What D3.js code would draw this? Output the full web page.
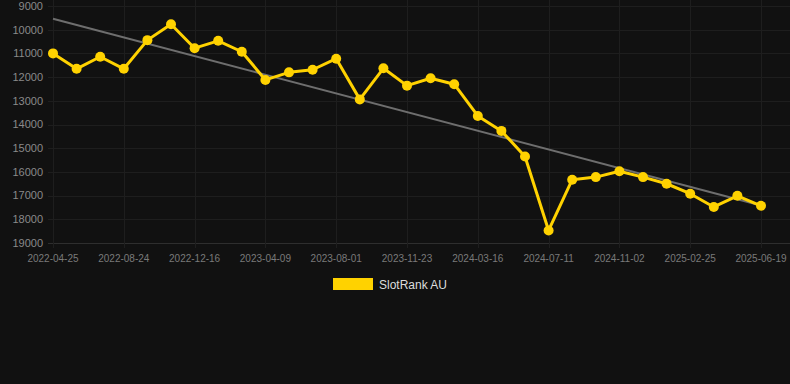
<!DOCTYPE html>
<html>
<head>
<meta charset="utf-8">
<script src="https://cdn.jsdelivr.net/npm/d3@7"></script>
<style>
  html, body { margin: 0; padding: 0; background: #111111; }
  svg { display: block; font-family: "Liberation Sans", Arial, sans-serif; }
</style>
</head>
<body>
<div id="chart"></div>
<script>
// dates of each sample (only every third is labelled on the axis)
var dates = [
  "2022-04-25", "2022-06-03", "2022-07-15", "2022-08-24", "2022-10-01", "2022-11-08",
  "2022-12-16", "2023-01-23", "2023-03-02", "2023-04-09", "2023-05-17", "2023-06-24",
  "2023-08-01", "2023-09-08", "2023-10-16", "2023-11-23", "2023-12-31", "2024-02-07",
  "2024-03-16", "2024-04-24", "2024-06-02", "2024-07-11", "2024-08-18", "2024-09-25",
  "2024-11-02", "2024-12-10", "2025-01-18", "2025-02-25", "2025-04-04", "2025-05-12",
  "2025-06-19"
];
// rank values (lower is better, axis is reversed)
var rankValues = [
  11000, 11650, 11140, 11650, 10440, 9770, 10780, 10470, 10930, 12120,
  11800, 11690, 11225, 12940, 11630, 12360, 12050, 12300, 13640, 14270,
  15350, 18470, 16330, 16220, 15970, 16220, 16500, 16920, 17480, 17010,
  17430
];
var yTicks = [9000, 10000, 11000, 12000, 13000, 14000, 15000, 16000, 17000, 18000, 19000];
var seriesName = "SlotRank AU";

var width = 790, height = 384;
var margin = {top: 6, right: 29, bottom: 141, left: 53};
var gold = "#FFD200";

var svg = d3.select("#chart")
  .append("svg")
    .attr("width", width)
    .attr("height", height);

svg.append("rect")
  .attr("width", width)
  .attr("height", height)
  .attr("fill", "#111111");

var x = d3.scalePoint()
  .domain(dates)
  .range([margin.left, width - margin.right]);

var y = d3.scaleLinear()
  .domain([9000, 19000])
  .range([margin.top, height - margin.bottom]);

var labelled = dates.filter(function(d, i){ return i % 3 === 0; });

// horizontal grid
svg.append("g")
  .selectAll("line")
  .data(yTicks)
  .enter()
  .append("line")
    .attr("x1", 48)
    .attr("x2", width)
    .attr("y1", function(d){ return Math.round(y(d)) + 0.5; })
    .attr("y2", function(d){ return Math.round(y(d)) + 0.5; })
    .attr("stroke", function(d){ return d === 19000 ? "#2e2e2e" : "#1e1e1e"; })
    .attr("stroke-width", 1);

// vertical grid
svg.append("g")
  .selectAll("line")
  .data(labelled)
  .enter()
  .append("line")
    .attr("x1", function(d){ return Math.round(x(d)) + 0.5; })
    .attr("x2", function(d){ return Math.round(x(d)) + 0.5; })
    .attr("y1", 0)
    .attr("y2", y(19000) + 5)
    .attr("stroke", "#1e1e1e")
    .attr("stroke-width", 1);

// y axis labels
svg.append("g")
  .selectAll("text")
  .data(yTicks)
  .enter()
  .append("text")
    .attr("x", 43)
    .attr("y", function(d){ return y(d); })
    .attr("dy", "0.35em")
    .attr("text-anchor", "end")
    .attr("fill", "#8a8a8a")
    .style("font-size", "11px")
    .text(function(d){ return d; });

// x axis labels
svg.append("g")
  .selectAll("text")
  .data(labelled)
  .enter()
  .append("text")
    .attr("x", function(d){ return x(d); })
    .attr("y", 262)
    .attr("text-anchor", "middle")
    .attr("fill", "#7a7a7a")
    .style("font-size", "10px")
    .text(function(d){ return d; });

// least squares trend line over the samples
var n = rankValues.length;
var mx = d3.mean(rankValues, function(d, i){ return i; });
var my = d3.mean(rankValues);
var sxy = d3.sum(rankValues, function(d, i){ return (i - mx) * (d - my); });
var sxx = d3.sum(rankValues, function(d, i){ return (i - mx) * (i - mx); });
var slope = sxy / sxx;
var icpt = my - slope * mx;

svg.append("line")
  .attr("x1", x(dates[0]))
  .attr("y1", y(icpt))
  .attr("x2", x(dates[n - 1]))
  .attr("y2", y(icpt + slope * (n - 1)))
  .attr("stroke", "#6e6e6e")
  .attr("stroke-width", 2);

// series line
var line = d3.line()
  .x(function(d, i){ return x(dates[i]); })
  .y(function(d){ return y(d); });

svg.append("path")
  .datum(rankValues)
  .attr("d", line)
  .attr("fill", "none")
  .attr("stroke", gold)
  .attr("stroke-width", 3)
  .attr("stroke-linejoin", "round");

svg.append("g")
  .selectAll("circle")
  .data(rankValues)
  .enter()
  .append("circle")
    .attr("cx", function(d, i){ return x(dates[i]); })
    .attr("cy", function(d){ return y(d); })
    .attr("r", 5)
    .attr("fill", gold);

// legend
svg.append("rect")
  .attr("x", 333)
  .attr("y", 278)
  .attr("width", 40)
  .attr("height", 12)
  .attr("fill", gold);

svg.append("text")
  .attr("x", 379)
  .attr("y", 289)
  .attr("fill", "#dddddd")
  .style("font-size", "12px")
  .text(seriesName);
</script>
</body>
</html>
